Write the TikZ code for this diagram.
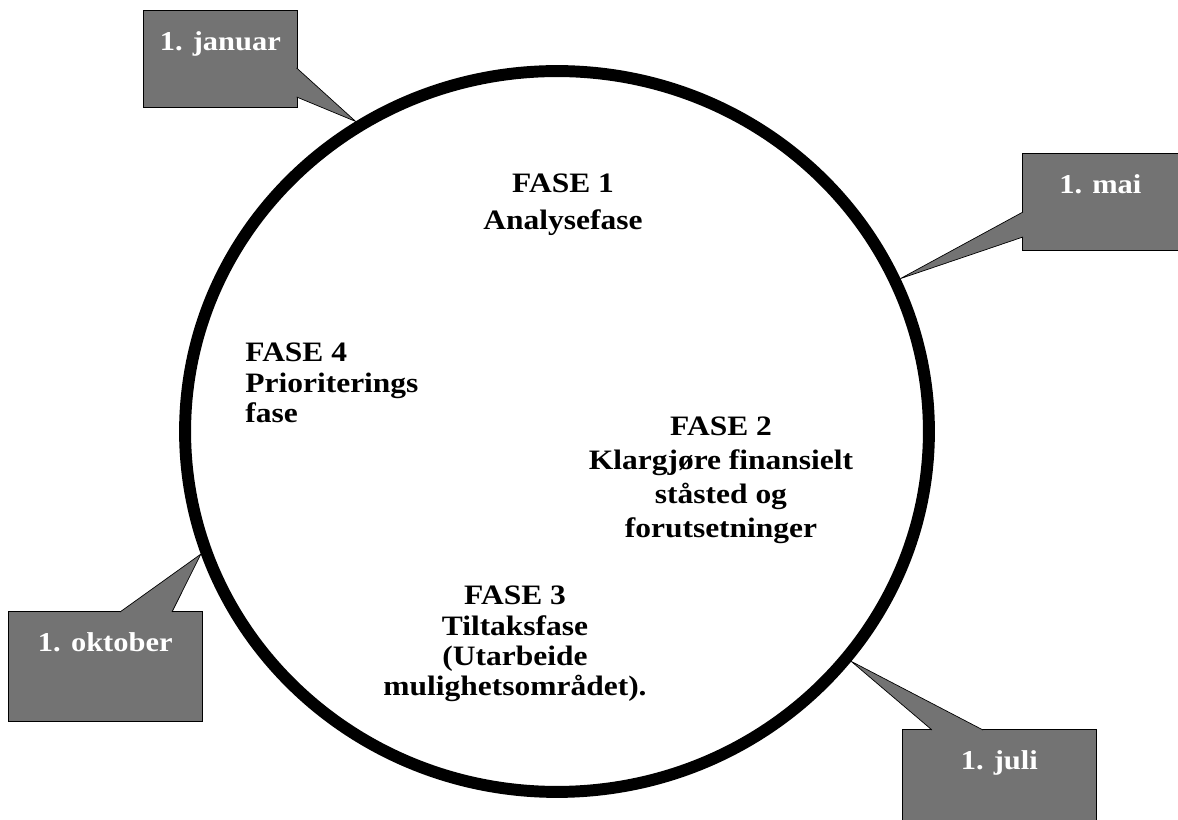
\documentclass[tikz,border=0pt]{standalone}
\usepackage{fontspec}
\setmainfont{Liberation Serif}[FakeStretch=1.12]
\usepackage{tikz}
\usetikzlibrary{positioning,shapes.geometric,calc}

\begin{document}
\begin{tikzpicture}[x=0.02cm,y=-0.02cm]
	\tikzset{date box/.style={draw=black, thin, fill=black!55, text=white, inner sep=0pt, anchor=north west,
	    font=\bfseries\fontsize{15.5}{18}\selectfont, text height=0.8cm},
	  tail style/.style={fill=black!55, draw=black, thin, line join=miter},
	  phase style/.style={align=center, inner sep=0pt}}
	\useasboundingbox (0,0) rectangle (1178,820);
	\node[draw=black, ellipse, line width=6.8pt, minimum width=14.88cm, minimum height=14.42cm, inner sep=0pt] (circ) at (557,431.5) {};
	% the four phases
	\node[phase style, font=\bfseries\fontsize{16}{21}\selectfont] (f1) at (563,205) {FASE 1\\Analysefase};
	\node[phase style, font=\bfseries\fontsize{16}{19.4}\selectfont] (f2) at (721,480) {FASE 2\\Klargjøre finansielt\\ståsted og\\forutsetninger};
	\node[phase style, font=\bfseries\fontsize{16}{17.2}\selectfont] (f3) at (515,644) {FASE 3\\Tiltaksfase\\(Utarbeide\\mulighetsområdet).};
	\node[phase style, align=left, anchor=west, font=\bfseries\fontsize{16}{17.2}\selectfont] (f4) at (245,383) {FASE 4\\Prioriterings\\fase};
	% dates
	\node[date box, minimum width=3.08cm, text depth=1.14cm] (jan) at (143,10) {1. januar};
	\node[date box, minimum width=3.12cm, text depth=1.14cm] (mai) at (1022,153) {1. mai};
	\node[date box, minimum width=3.88cm, text depth=1.4cm] (okt) at (8,611) {1. oktober};
	\node[date box, minimum width=3.88cm, text depth=1.14cm] (jul) at (902,729) {1. juli};
	\filldraw[tail style] ($(jan.north east)+(-1,58)$) -- (circ.123.2) -- ($(jan.north east)+(-1,87)$);
	\filldraw[tail style] ($(mai.north west)+(1,59)$) -- (circ.24.6) -- ($(mai.north west)+(1,84)$);
	\filldraw[tail style] ($(okt.north west)+(112,1)$) -- (circ.199.4) -- ($(okt.north west)+(164,1)$);
	\filldraw[tail style] ($(jul.north west)+(30,1)$) -- (circ.322.3) -- ($(jul.north west)+(81,1)$);
\end{tikzpicture}
\end{document}
